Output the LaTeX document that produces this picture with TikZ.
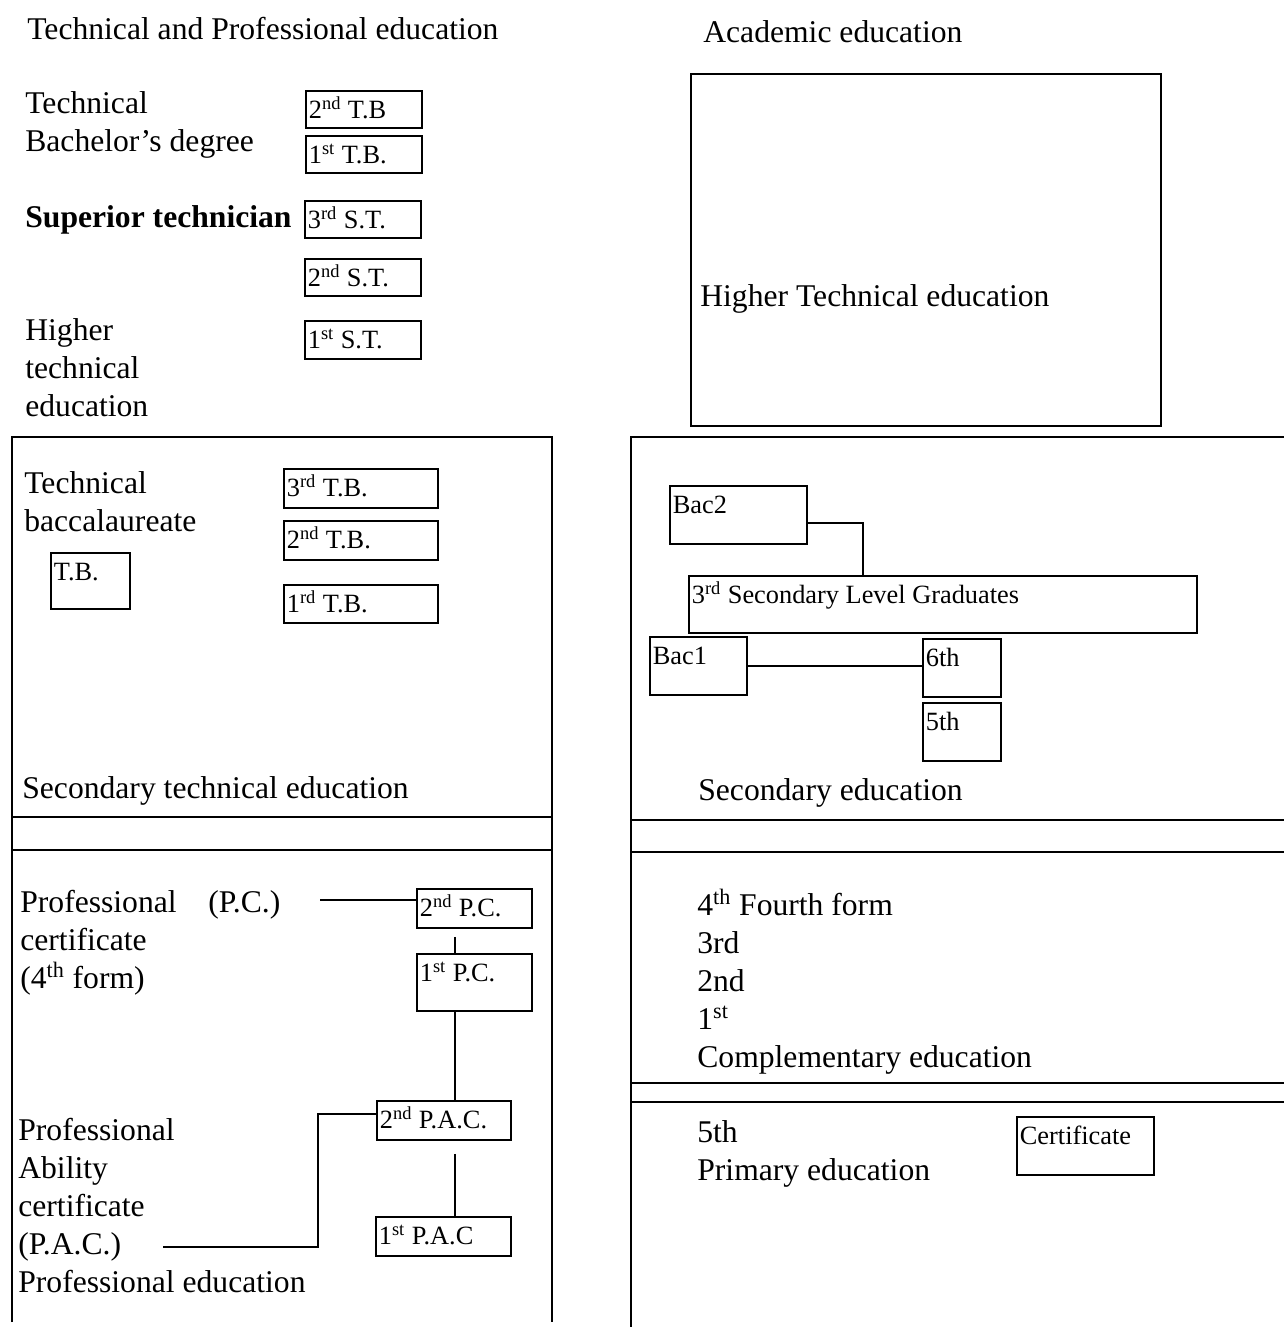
\documentclass[tikz,border=0pt]{standalone}
\usepackage{fontspec}
\setmainfont{Liberation Serif}
\usetikzlibrary{positioning,calc}

\tikzset{
  txt/.style={anchor=base west, inner sep=0pt, font=\fontsize{18}{21.6}\selectfont},
  para/.style={anchor=north west, inner sep=0pt, align=left, font=\fontsize{18}{21.6}\selectfont},
  cell/.style 2 args={draw, line width=1pt, anchor=north west, inner sep=0pt,
    minimum width=#1*0.02cm, minimum height=#2*0.02cm},
  tag/.style={anchor=north west, inner xsep=2pt, inner ysep=2pt, text height=14pt,
    font=\fontsize{15}{18}\selectfont},
  frame/.style={line width=1.1pt},
  link/.style={line width=1pt}
}

\begin{document}
\begin{tikzpicture}[x=0.02cm,y=-0.02cm]
\path[use as bounding box, fill=white] (0,0) rectangle (1284,1327);

% titles
\node[txt] (ttitle) at (27,40) {Technical and Professional education};
\node[txt] (atitle) at (703,43) {Academic education};

% higher technical, left
\node[para] (tbdeg) at (25,91) {Technical\\Bachelor's degree};
\node[cell={116}{37}, label={[tag]north west:2\textsuperscript{nd} T.B}] (tb2) at (305,90) {};
\node[cell={116}{37}, label={[tag]north west:1\textsuperscript{st} T.B.}] (tb1) at (305,135) {};
\node[txt, font=\fontsize{18}{21.6}\selectfont\bfseries] (suptech) at (25,228) {Superior technician};
\node[cell={116}{37}, label={[tag]north west:3\textsuperscript{rd} S.T.}] (st3) at (304,200) {};
\node[cell={116}{37}, label={[tag]north west:2\textsuperscript{nd} S.T.}] (st2) at (304,258) {};
\node[cell={116}{38}, label={[tag]north west:1\textsuperscript{st} S.T.}] (st1) at (304,320) {};
\node[para] (highertech) at (25,318) {Higher\\technical\\education};

% academic, top
\node[cell={470}{352}, line width=1.2pt] (hted) at (690,73) {};
\node[txt] (htedtext) at (700,307) {Higher Technical education};

% secondary technical
\draw[frame] (12,1322) -- (12,437) -- (552,437) -- (552,1322);
\draw[frame] (12,817) -- (552,817);
\draw[frame] (12,850) -- (552,850);
\node[para] (techbac) at (24,471) {Technical\\baccalaureate};
\node[cell={79}{56}, label={[tag]north west:T.B.}] (tb) at (50,552) {};
\node[cell={154}{39}, label={[tag]north west:3\textsuperscript{rd} T.B.}] (tbb3) at (283,468) {};
\node[cell={154}{39}, label={[tag]north west:2\textsuperscript{nd} T.B.}] (tbb2) at (283,520) {};
\node[cell={154}{38}, label={[tag]north west:1\textsuperscript{rd} T.B.}] (tbb1) at (283,584) {};
\node[txt] (secte) at (22,798) {Secondary technical education};

% secondary
\draw[frame] (631,1327) -- (631,437) -- (1284,437);
\draw[frame] (631,820) -- (1284,820);
\draw[frame] (631,852) -- (1284,852);
\draw[frame] (631,1083) -- (1284,1083);
\draw[frame] (631,1102) -- (1284,1102);
\node[cell={137}{58}, label={[tag]north west:Bac2}] (bac2) at (669,485) {};
\node[cell={508}{57}, label={[tag]north west:3\textsuperscript{rd} Secondary Level Graduates}] (slg) at (688,575) {};
\node[cell={97}{58}, label={[tag]north west:Bac1}] (bac1) at (649,636) {};
\node[cell={78}{58}, label={[tag]north west:6th}] (sixth) at (922,638) {};
\node[cell={78}{58}, label={[tag]north west:5th}] (fifth) at (922,702) {};
\node[txt] (seced) at (698,800) {Secondary education};
\coordinate (bacturn) at (863,0);
\draw[link] ([yshift=-0.16cm]bac2.east) -| (slg.north -| bacturn);
\draw[link] (bac1.east) -- (bac1.east -| sixth.west);

% complementary and primary
\node[para] (compl) at (697,889) {4\textsuperscript{th} Fourth form\\3rd\\2nd\\1\textsuperscript{st}\\Complementary education};
\node[para] (primary) at (697,1120) {5th\\Primary education};
\node[cell={137}{58}, label={[tag]north west:Certificate}] (cert) at (1016,1116) {};

% professional
\node[para] (pcert) at (20,890) {Professional\\certificate\\(4\textsuperscript{th} form)};
\node[txt] (pcabbr) at (208,912) {(P.C.)};
\node[cell={115}{39}, label={[tag]north west:2\textsuperscript{nd} P.C.}] (pc2) at (416,888) {};
\node[cell={115}{57}, label={[tag]north west:1\textsuperscript{st} P.C.}] (pc1) at (416,953) {};
\node[cell={134}{39}, label={[tag]north west:2\textsuperscript{nd} P.A.C.}] (pac2) at (376,1100) {};
\node[cell={135}{39}, label={[tag]north west:1\textsuperscript{st} P.A.C}] (pac1) at (375,1216) {};
\node[para] (pacert) at (18,1118) {Professional\\Ability\\certificate\\(P.A.C.)\\Professional education};
\coordinate (spine) at (455,0);
\coordinate (pcfree) at (320,900);
\coordinate (pacfree) at (163,1247);
\draw[link] (pcfree) -- (pcfree -| pc2.west);
\draw[link, shorten <=0.16cm] (pc2.south -| spine) -- (pc1.north -| spine);
\draw[link] (pc1.south -| spine) -- (pac2.north -| spine);
\draw[link, shorten <=0.26cm] (pac2.south -| spine) -- (pac1.north -| spine);
\draw[link] (pacfree) -- ++(155,0) |- ([yshift=0.13cm]pac2.west);
\end{tikzpicture}
\end{document}
